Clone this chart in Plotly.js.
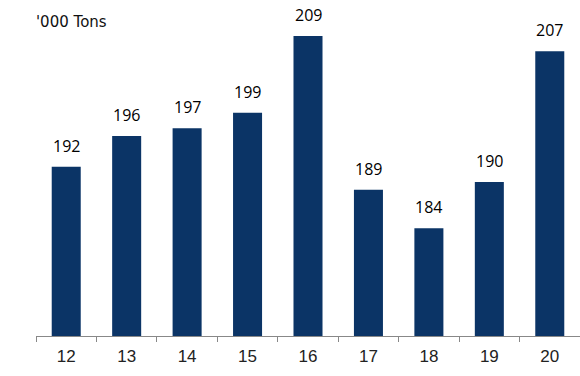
<!DOCTYPE html>
<html><head><meta charset="utf-8">
<script src="https://cdn.plot.ly/plotly-3.0.1.min.js"></script>
<style>html,body{margin:0;padding:0;background:#fff}</style>
</head><body>
<div id="chart" style="width:580px;height:376px"></div>
<script>
const categories = ["12","13","14","15","16","17","18","19","20"];
const values = [192,196,197,199,209,189,184,190,207];
const unitLabel = "'000 Tons";

const valueLabels = categories.map((c, i) => ({
  x: i, y: values[i], xref: "x", yref: "y",
  text: String(values[i]), showarrow: false,
  xanchor: "center", yanchor: "bottom", yshift: 8,
  font: {family: "Open Sans, sans-serif", size: 16, color: "#000", weight: 500}
}));

Plotly.newPlot("chart", [{
  type: "bar",
  x: categories,
  y: values,
  marker: {color: "#0b3466"},
  width: 0.48,
  hoverinfo: "none"
}], {
  width: 580, height: 376,
  margin: {l: 36, r: 0, t: 9, b: 40},
  paper_bgcolor: "#fff", plot_bgcolor: "#fff",
  showlegend: false,
  xaxis: {
    type: "category",
    range: [-0.5, 8.5],
    showline: true, linecolor: "#888", linewidth: 1,
    ticks: "outside", tickson: "boundaries", ticklen: 5, tickcolor: "#888",
    ticklabelstandoff: 5,
    tickfont: {family: "Liberation Sans, Arial, sans-serif", size: 17, color: "#222"},
    showgrid: false, zeroline: false
  },
  yaxis: {
    range: [170, 212.5],
    visible: false, showgrid: false, zeroline: false
  },
  annotations: valueLabels.concat([{
    xref: "paper", yref: "paper", x: -0.004, y: 0.96, xanchor: "left", yanchor: "middle",
    text: unitLabel, showarrow: false,
    font: {family: "DejaVu Sans, sans-serif", size: 15, color: "#111"}
  }])
}, {displayModeBar: false, staticPlot: true});
</script>
</body></html>
